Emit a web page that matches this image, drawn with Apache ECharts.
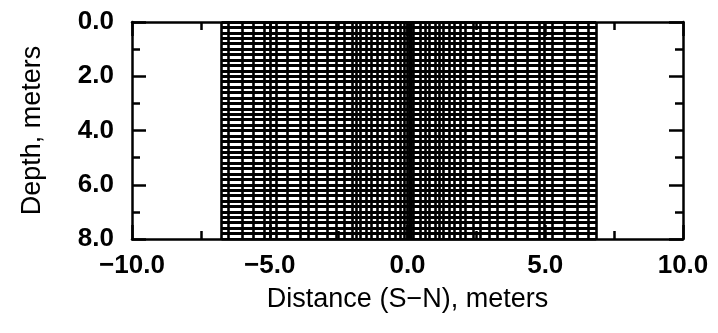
<!DOCTYPE html>
<html><head><meta charset="utf-8">
<script src="https://cdn.jsdelivr.net/npm/echarts@6/dist/echarts.min.js"></script>
<style>html,body{margin:0;padding:0;background:#fff}#c{width:718px;height:333px}</style>
</head><body><div id="c"></div>
<script>
// Vertical mesh lines (distance, m)
const meshX = [-6.75, -6.5, -6.0, -5.6, -5.2, -5.0, -4.75, -4.35, -3.9, -3.6, -3.3, -2.9, -2.6, -2.3,
  -2.0, -1.85, -1.7, -1.5, -1.3, -1.1, -0.9, -0.65, -0.45, -0.25, -0.1, 0.0, 0.05, 0.1, 0.15, 0.2,
  0.45, 0.65, 0.8, 1.0, 1.15, 1.3, 1.5, 1.7, 1.9, 2.1, 2.4, 2.65, 2.95, 3.25, 3.6, 3.9, 4.35,
  4.78, 4.96, 5.25, 5.7, 6.15, 6.55, 6.85];
// Horizontal mesh lines (depth, m)
const meshDepth = [0.0, 0.2, 0.4, 0.6, 0.8, 1.0, 1.2, 1.4, 1.6, 1.8, 2.0, 2.2, 2.4, 2.6, 2.8, 3.0,
  3.2, 3.4, 3.6, 3.8, 4.0, 4.2, 4.4, 4.6, 4.8, 5.0, 5.2, 5.4, 5.6, 5.8, 6.0, 6.2, 6.4, 6.6, 6.8,
  7.0, 7.2, 7.4, 7.6, 7.8, 8.0];
const xTickValues = [-10, -5, 0, 5, 10];
const xTickLabels = ['\u221210.0', '\u22125.0', '0.0', '5.0', '10.0'];
const yTickValues = [0, 2, 4, 6, 8];
const yTickLabels = ['0.0', '2.0', '4.0', '6.0', '8.0'];

const xMin = meshX[0], xMax = meshX[meshX.length - 1];
const dMin = meshDepth[0], dMax = meshDepth[meshDepth.length - 1];
const vSegs = meshX.map(x => ({coords: [[x, dMin], [x, dMax]]}));
const hSegs = meshDepth.map(d => ({coords: [[xMin, d], [xMax, d]]}));

const FONT = 'Liberation Sans';
const black = '#000';
function lab(values, labels) {
  return v => { const i = values.indexOf(Math.round(v * 1000) / 1000); return i >= 0 ? labels[i] : ''; };
}
const common = {
  axisLine: {show: true, onZero: false, lineStyle: {color: black, width: 2.5}},
  axisTick: {show: true, inside: true, length: 14, lineStyle: {color: black, width: 2.5}},
  minorTick: {show: true, splitNumber: 2, length: 8, lineStyle: {color: black, width: 2.5}},
  splitLine: {show: false}
};
const chart = echarts.init(document.getElementById('c'), null, {renderer: 'canvas'});
chart.setOption({
  animation: false,
  backgroundColor: '#fff',
  grid: {left: 132, right: 35, top: 22, bottom: 94},
  xAxis: [
    Object.assign({type: 'value', min: -10, max: 10, interval: 5, position: 'bottom',
      name: 'Distance (S\u2212N), meters', nameLocation: 'middle', nameGap: 47,
      nameTextStyle: {fontFamily: FONT, fontSize: 27, color: black},
      axisLabel: {margin: 14, fontFamily: FONT, fontSize: 26, fontWeight: 'bold', color: black, formatter: lab(xTickValues, xTickLabels)}}, common),
    Object.assign({type: 'value', min: -10, max: 10, interval: 5, position: 'top',
      axisLabel: {show: false}}, common)
  ],
  yAxis: [
    Object.assign({type: 'value', min: 0, max: 8, interval: 2, inverse: true, position: 'left',
      name: 'Depth, meters', nameLocation: 'middle', nameGap: 86, nameRotate: 90,
      nameTextStyle: {fontFamily: FONT, fontSize: 27, color: black},
      axisLabel: {margin: 18, fontFamily: FONT, fontSize: 26, fontWeight: 'bold', color: black, formatter: lab(yTickValues, yTickLabels)}}, common),
    Object.assign({type: 'value', min: 0, max: 8, interval: 2, inverse: true, position: 'right',
      axisLabel: {show: false}}, common)
  ],
  series: [{
    type: 'lines', coordinateSystem: 'cartesian2d', xAxisIndex: 0, yAxisIndex: 0,
    polyline: false, silent: true, z: 3,
    lineStyle: {color: black, width: 2.6, opacity: 1},
    data: vSegs
  }, {
    type: 'lines', coordinateSystem: 'cartesian2d', xAxisIndex: 0, yAxisIndex: 0,
    polyline: false, silent: true, z: 3,
    lineStyle: {color: black, width: 3, opacity: 1},
    data: hSegs
  }]
});
</script></body></html>
